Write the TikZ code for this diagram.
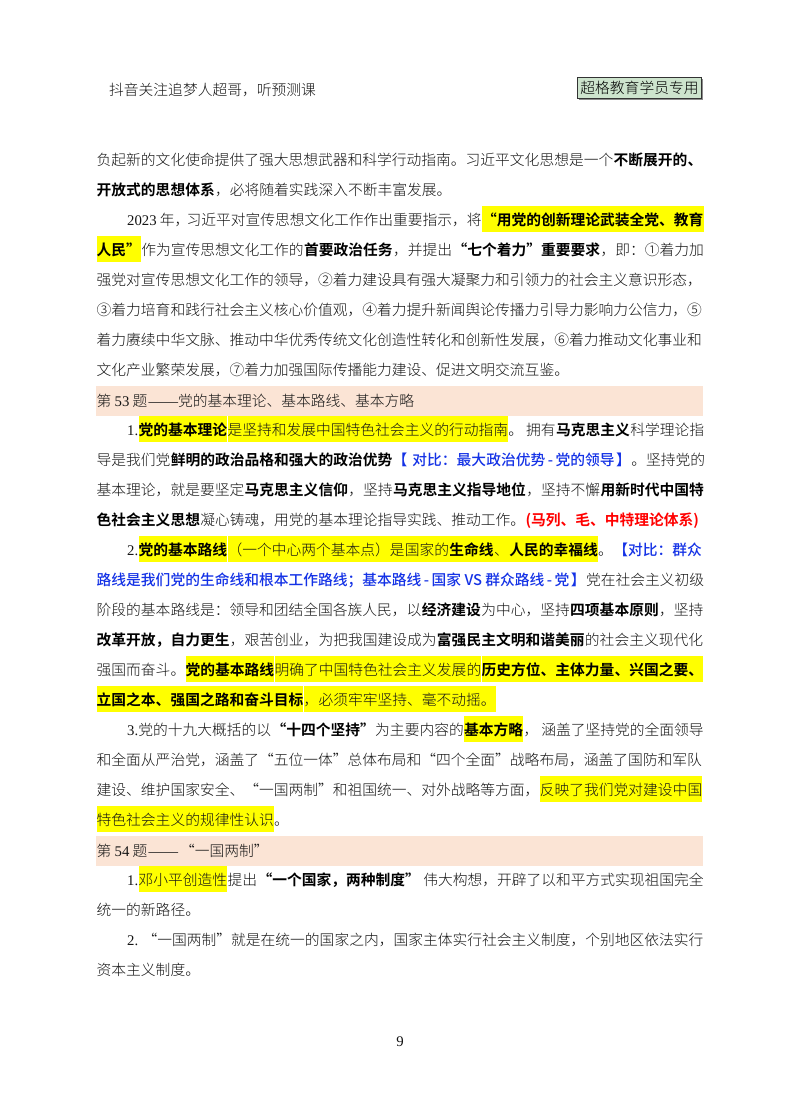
\documentclass[tikz,border=0pt]{standalone}
\usepackage{fontspec}
\setmainfont{Noto Sans CJK SC Light}[BoldFont={Noto Sans CJK SC Bold}]
\newfontfamily\lat{Liberation Serif}
\newfontfamily\notefont{Noto Sans CJK SC Medium}
\usetikzlibrary{positioning}
\definecolor{headbar}{RGB}{251, 228, 213}
\definecolor{stampfill}{RGB}{205, 228, 205}
\definecolor{markyellow}{RGB}{255, 255, 0}
\definecolor{inkgray}{RGB}{20, 20, 20}
\definecolor{noteblue}{RGB}{20, 50, 230}
\tikzset{
    bodytext/.style = {draw=none, fill=none, rectangle, inner sep=0em, text height=19.6pt, text depth=6.4pt,
      text=inkgray, font=\fontsize{14.76}{18}\selectfont},
    boldtext/.style = {bodytext, text=black, font=\fontsize{14.76}{18}\selectfont\bfseries},
    marktext/.style = {bodytext, fill=markyellow},
    markbold/.style = {boldtext, fill=markyellow},
    bluetext/.style = {bodytext, text=noteblue, font=\fontsize{14.76}{18}\selectfont\notefont},
    redtext/.style = {boldtext, text=red},
    headbarbox/.style = {draw=none, fill=headbar, rectangle, inner sep=0em, minimum width=607pt, minimum height=30pt, anchor=north west},
    stampbox/.style = {draw=black!80, fill=stampfill, rectangle, inner sep=0em, minimum width=124pt, minimum height=21pt,
      font=\fontsize{14.76}{18}\selectfont, text=black}
}
\begin{document}
\begin{tikzpicture}[x=1pt, y=-1pt, node distance=0em]
\useasboundingbox (0,0) rectangle (800,1114);
\fill[white] (0,0) rectangle (800,1114);

% page head
\node [bodytext, name=tiktok, anchor=west] at (109,89) {抖音关注追梦人超哥，听预测课};
\node [stampbox, name=stampshadow, fill=black!45, draw=none] at (640.5,89) {};
\node [stampbox, name=stamp] at (639.5,88) {超格教育学员专用};

% first block
\node [bodytext, name=l1a, anchor=west] at (96.5,159) {负起新的文化使命提供了强大思想武器和科学行动指南。习近平文化思想是一个};
\node [boldtext, name=l1b, right=of l1a] {不断展开的、};

\node [boldtext, name=l2a, anchor=west] at (96.5,189) {开放式的思想体系};
\node [bodytext, name=l2b, right=of l2a] {，必将随着实践深入不断丰富发展。};

\node [bodytext, name=l3a, anchor=west] at (127,219) {{\lat 2023} 年，\hspace{-3pt}习近平对宣传思想文化工作作出重要指示，将};
\node [markbold, name=l3b, right=of l3a] {“用党的创新理论武装全党、教育};

\node [markbold, name=l4a, anchor=west] at (96.5,249) {人民”};
\node [bodytext, name=l4b, right=of l4a] {作为宣传思想文化工作的};
\node [boldtext, name=l4c, right=of l4b] {首要政治任务};
\node [bodytext, name=l4d, right=of l4c] {，并提出};
\node [boldtext, name=l4e, right=of l4d] {“七个着力”重要要求};
\node [bodytext, name=l4f, right=of l4e] {，即：①着力加};

\node [bodytext, name=l5a, anchor=west] at (96.5,279) {强党对宣传思想文化工作的领导，②着力建设具有强大凝聚力和引领力的社会主义意识形态，};
\node [bodytext, name=l6a, anchor=west] at (96.5,309) {③着力培育和践行社会主义核心价值观，④着力提升新闻舆论传播力引导力影响力公信力，⑤};
\node [bodytext, name=l7a, anchor=west] at (96.5,339) {着力赓续中华文脉、推动中华优秀传统文化创造性转化和创新性发展，⑥着力推动文化事业和};
\node [bodytext, name=l8a, anchor=west] at (96.5,369) {文化产业繁荣发展，⑦着力加强国际传播能力建设、促进文明交流互鉴。};

% question 53
\node [headbarbox, name=bar53] at (96,386) {};
\node [bodytext, name=q53, anchor=west] at (96.5,400) {第 {\lat 53} 题\hspace{1pt}{\lat ——}党的基本理论、基本路线、基本方略};

\node [bodytext, name=l9a, anchor=west] at (127,429) {\lat 1.};
\node [markbold, name=l9b, right=of l9a] {党的基本理论};
\node [marktext, name=l9c, right=of l9b] {是坚持和发展中国特色社会主义的行动指南};
\node [bodytext, name=l9d, right=of l9c] {。\hspace{3pt}拥有};
\node [boldtext, name=l9e, right=of l9d] {马克思主义};
\node [bodytext, name=l9f, right=of l9e] {科学理论指};

\node [bodytext, name=l10a, anchor=west] at (96.5,459) {导是我们党};
\node [boldtext, name=l10b, right=of l10a] {鲜明的政治品格和强大的政治优势};
\node [bluetext, name=l10c, right=of l10b] {【\hspace{5pt}对比：最大政治优势\hspace{2.5pt}-\hspace{2.5pt}党的领导\hspace{1.5pt}】};
\node [bodytext, name=l10d, right=of l10c] {。坚持党的};

\node [bodytext, name=l11a, anchor=west] at (96.5,489) {基本理论，就是要坚定};
\node [boldtext, name=l11b, right=of l11a] {马克思主义信仰};
\node [bodytext, name=l11c, right=of l11b] {，坚持};
\node [boldtext, name=l11d, right=of l11c] {马克思主义指导地位};
\node [bodytext, name=l11e, right=of l11d] {，坚持不懈};
\node [boldtext, name=l11f, right=of l11e] {用新时代中国特};

\node [boldtext, name=l12a, anchor=west] at (96.5,519) {色社会主义思想};
\node [bodytext, name=l12b, right=of l12a] {凝心铸魂，用党的基本理论指导实践、推动工作。};
\node [redtext, name=l12c, right=of l12b] {(马列、毛、中特理论体系)};

\node [bodytext, name=l13a, anchor=west] at (127,549) {\lat 2.};
\node [markbold, name=l13b, right=of l13a] {党的基本路线};
\node [marktext, name=l13c, right=of l13b] {（一个中心两个基本点）是国家的};
\node [markbold, name=l13d, right=of l13c] {生命线};
\node [marktext, name=l13e, right=of l13d] {、};
\node [markbold, name=l13f, right=of l13e] {人民的幸福线};
\node [bodytext, name=l13g, right=of l13f] {。};
\node [bluetext, name=l13h, right=of l13g] {【对比：群众};

\node [bluetext, name=l14a, anchor=west] at (96.5,579) {路线是我们党的生命线和根本工作路线；基本路线\hspace{2.5pt}-\hspace{2.5pt}国家 VS 群众路线\hspace{2.5pt}-\hspace{2.5pt}党\hspace{1.5pt}】};
\node [bodytext, name=l14b, right=of l14a] {党在社会主义初级};

\node [bodytext, name=l15a, anchor=west] at (96.5,609) {阶段的基本路线是：领导和团结全国各族人民，以};
\node [boldtext, name=l15b, right=of l15a] {经济建设};
\node [bodytext, name=l15c, right=of l15b] {为中心，坚持};
\node [boldtext, name=l15d, right=of l15c] {四项基本原则};
\node [bodytext, name=l15e, right=of l15d] {，坚持};

\node [boldtext, name=l16a, anchor=west] at (96.5,639) {改革开放，自力更生};
\node [bodytext, name=l16b, right=of l16a] {，艰苦创业，为把我国建设成为};
\node [boldtext, name=l16c, right=of l16b] {富强民主文明和谐美丽};
\node [bodytext, name=l16d, right=of l16c] {的社会主义现代化};

\node [bodytext, name=l17a, anchor=west] at (96.5,669) {强国而奋斗。};
\node [markbold, name=l17b, right=of l17a] {党的基本路线};
\node [marktext, name=l17c, right=of l17b] {明确了中国特色社会主义发展的};
\node [markbold, name=l17d, right=of l17c] {历史方位、主体力量、兴国之要、};

\node [markbold, name=l18a, anchor=west] at (96.5,699) {立国之本、强国之路和奋斗目标};
\node [marktext, name=l18b, right=of l18a] {，必须牢牢坚持、毫不动摇。};

\node [bodytext, name=l19a, anchor=west] at (127,729) {{\lat 3.}党的十九大概括的以};
\node [boldtext, name=l19b, right=of l19a] {“十四个坚持”};
\node [bodytext, name=l19c, right=of l19b] {为主要内容的};
\node [markbold, name=l19d, right=of l19c] {基本方略};
\node [bodytext, name=l19e, right=of l19d] {，\hspace{3pt}涵盖了坚持党的全面领导};

\node [bodytext, name=l20a, anchor=west] at (96.5,759) {和全面从严治党，涵盖了“五位一体”总体布局和“四个全面”战略布局，涵盖了国防和军队};

\node [bodytext, name=l21a, anchor=west] at (96.5,789) {建设、维护国家安全、“一国两制”和祖国统一、对外战略等方面，};
\node [marktext, name=l21b, right=of l21a] {反映了我们党对建设中国};

\node [marktext, name=l22a, anchor=west] at (96.5,819) {特色社会主义的规律性认识};
\node [bodytext, name=l22b, right=of l22a] {。};

% question 54
\node [headbarbox, name=bar54] at (96,836) {};
\node [bodytext, name=q54, anchor=west] at (96.5,850) {第 {\lat 54} 题\hspace{1pt}{\lat ——}\hspace{2pt}“一国两制”};

\node [bodytext, name=l23a, anchor=west] at (127,879) {\lat 1.};
\node [marktext, name=l23b, right=of l23a] {邓小平创造性};
\node [bodytext, name=l23c, right=of l23b] {提出};
\node [boldtext, name=l23d, right=of l23c] {“一个国家，两种制度”};
\node [bodytext, name=l23e, right=of l23d] {\hspace{3pt}伟大构想，开辟了以和平方式实现祖国完全};

\node [bodytext, name=l24a, anchor=west] at (96.5,909) {统一的新路径。};
\node [bodytext, name=l25a, anchor=west] at (127,939) {{\lat 2.} “一国两制”就是在统一的国家之内，国家主体实行社会主义制度，个别地区依法实行};
\node [bodytext, name=l26a, anchor=west] at (96.5,969) {资本主义制度。};

\node [bodytext, name=pagenum] at (400,1040) {\lat 9};
\end{tikzpicture}
\end{document}
